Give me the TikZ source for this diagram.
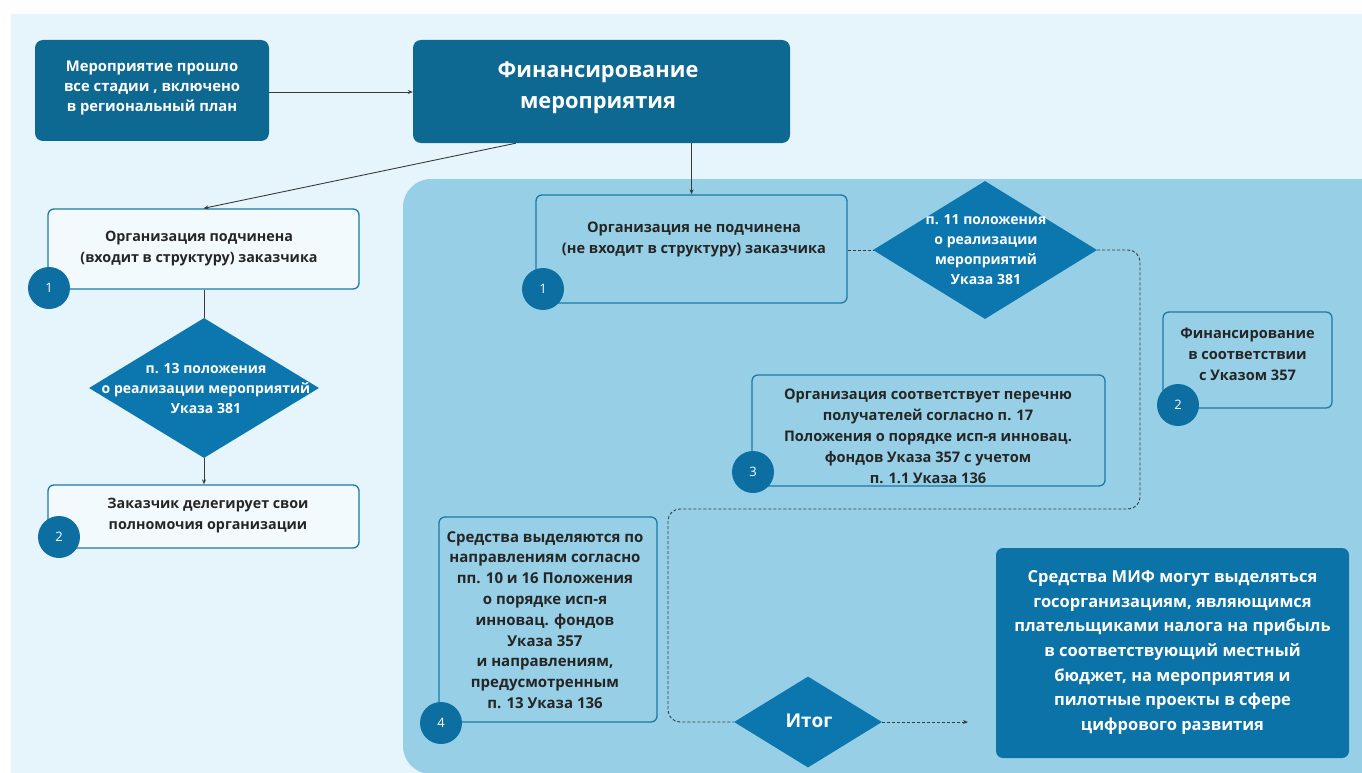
\documentclass[tikz,border=0pt]{standalone}
\usepackage{fontspec}
\setmainfont{Open Sans}
\usetikzlibrary{shapes.geometric,arrows.meta,calc}
\definecolor{bgl}{HTML}{E6F5FC}
\definecolor{panel}{HTML}{97D0E6}
\definecolor{dark}{HTML}{0D6892}
\definecolor{mif}{HTML}{0B73A7}
\definecolor{dia}{HTML}{0B77AE}
\definecolor{circ}{HTML}{0C6EA1}
\definecolor{edge}{HTML}{1A7AA6}
\definecolor{wbox}{HTML}{F3FAFD}
\definecolor{txt}{HTML}{252525}
\definecolor{conn}{HTML}{3A3A3A}
\begin{document}
\begin{tikzpicture}[x=1pt,y=-1pt,
  darkbox/.style={draw=none,fill=dark,rounded corners=8pt,inner sep=0pt},
  outlinebox/.style={draw=edge,line width=1.3pt,rounded corners=6pt,inner sep=0pt},
  numcirc/.style={circle,fill=circ,minimum size=42pt,inner sep=0pt,text=white,font=\fontsize{13}{13}\selectfont},
  dmd/.style={diamond,fill=dia,inner sep=0pt},
  btext/.style={align=center,text=txt,inner sep=0pt,font=\fontsize{14.6}{21}\selectfont\bfseries},
  wtext/.style={align=center,text=white,inner sep=0pt,font=\fontsize{14.8}{20}\selectfont\bfseries},
  dtext/.style={align=center,text=white,inner sep=0pt,font=\fontsize{14}{20}\selectfont\bfseries},
  arr/.style={draw=conn,line width=0.9pt,-{Stealth[length=5pt,width=4pt]}},
  plainline/.style={draw=conn,line width=0.9pt},
  dashline/.style={draw=conn,line width=0.9pt,dash pattern=on 3pt off 2pt}
]
\clip (0,0) rectangle (1362,773);
\fill[white] (0,0) rectangle (1362,773);
\fill[bgl] (11,14) rectangle (1362,773);
\fill[panel,rounded corners=28pt] (403,179) rectangle (1420,774);

% top boxes
\node[darkbox,minimum width=234pt,minimum height=101pt] (m1) at (152,90.5) {};
\node[wtext] (m1t) at (152,88) {Мероприятие прошло\\все стадии , включено\\в региональный план};
\node[darkbox,minimum width=377pt,minimum height=103pt] (fin) at (601.5,91.5) {};
\node[align=center,text=white,inner sep=0pt,font=\fontsize{21.8}{31}\selectfont\bfseries] (fint) at (598,88) {Финансирование\\мероприятия};

% left column
\node[outlinebox,fill=wbox,minimum width=311pt,minimum height=80pt] (org1) at (203.5,249) {};
\node[btext,font=\fontsize{14.3}{21}\selectfont\bfseries] (org1t) at (199,248.5) {Организация подчинена\\(входит в структуру) заказчика};
\node[numcirc] (c1) at (49,288) {1};

\node[dmd,minimum width=230pt,minimum height=140pt] (d1) at (204,388) {};
\node[dtext] (d1t) at (206,388) {п. 13 положения\\о реализации мероприятий\\Указа 381};

\node[outlinebox,fill=wbox,minimum width=311pt,minimum height=63pt] (del) at (203.5,516.5) {};
\node[btext,font=\fontsize{14.3}{21}\selectfont\bfseries] (delt) at (208,515.5) {Заказчик делегирует свои\\полномочия организации};
\node[numcirc] (c2) at (59,537) {2};

% right panel
\node[outlinebox,minimum width=311pt,minimum height=108pt] (org2) at (691.5,249) {};
\node[btext] (org2t) at (694,239) {Организация не подчинена\\(не входит в структуру) заказчика};
\node[numcirc] (c1b) at (543,289) {1};

\node[dmd,minimum width=224pt,minimum height=138pt] (d2) at (985,250) {};
\node[dtext] (d2t) at (986,250) {п. 11 положения\\о реализации\\мероприятий\\Указа 381};

\node[outlinebox,minimum width=169pt,minimum height=96pt] (f357) at (1247.5,360) {};
\node[btext] (f357t) at (1247.5,354) {Финансирование\\в соответствии\\с Указом 357};
\node[numcirc] (c2b) at (1178,405) {2};

\node[outlinebox,minimum width=353pt,minimum height=111pt] (b3) at (928.5,430.5) {};
\node[btext] (b3t) at (928,436) {Организация соответствует перечню\\получателей согласно п. 17\\Положения о порядке исп-я инновац.\\фондов Указа 357 с учетом\\п. 1.1 Указа 136};
\node[numcirc] (c3) at (753,472) {3};

\node[outlinebox,minimum width=218pt,minimum height=205pt] (b4) at (548,619.5) {};
\node[btext,font=\fontsize{15}{20.8}\selectfont\bfseries] (b4t) at (545,620) {Средства выделяются по\\направлениям согласно\\пп. 10 и 16 Положения\\о порядке исп-я\\инновац. фондов\\Указа 357\\и направлениям,\\предусмотренным\\п. 13 Указа 136};
\node[numcirc] (c4) at (441,723) {4};

\node[dmd,minimum width=148pt,minimum height=91pt] (it) at (808,722) {};
\node[text=white,inner sep=0pt,font=\fontsize{19}{19}\selectfont\bfseries] (itt) at (809,721) {Итог};

\node[draw=none,fill=mif,rounded corners=7pt,minimum width=353pt,minimum height=210pt,inner sep=0pt] (mif) at (1172.5,653) {};
\node[align=center,text=white,inner sep=0pt,font=\fontsize{16.5}{24.5}\selectfont\bfseries] (mift) at (1172.5,652.5) {Средства МИФ могут выделяться\\госорганизациям, являющимся\\плательщиками налога на прибыль\\в соответствующий местный\\бюджет, на мероприятия и\\пилотные проекты в сфере\\цифрового развития};

% connectors
\draw[arr] (m1.east |- 0,92) -- (fin.west |- 0,92);
\draw[arr] ($(fin.south west)!0.273!(fin.south east)$) -- (org1.north);
\draw[arr] (fin.south -| org2.north) -- (org2.north);
\draw[plainline] (org1.south -| d1.north) -- (d1.north);
\draw[arr] (d1.south) -- (del.north -| d1.south);
\draw[dashline] (org2.east |- d2.west) -- (d2.west);
\coordinate (r1) at (1140,509);
\coordinate (r2) at (668,509);
\draw[dashline,rounded corners=12pt] (d2.east) -| (r1) -- (r2) |- (it.west);
\coordinate (mifin) at (968,722);
\draw[dashline,-{Stealth[length=5pt,width=4pt]}] (it.east) -- (mifin);
\end{tikzpicture}
\end{document}
